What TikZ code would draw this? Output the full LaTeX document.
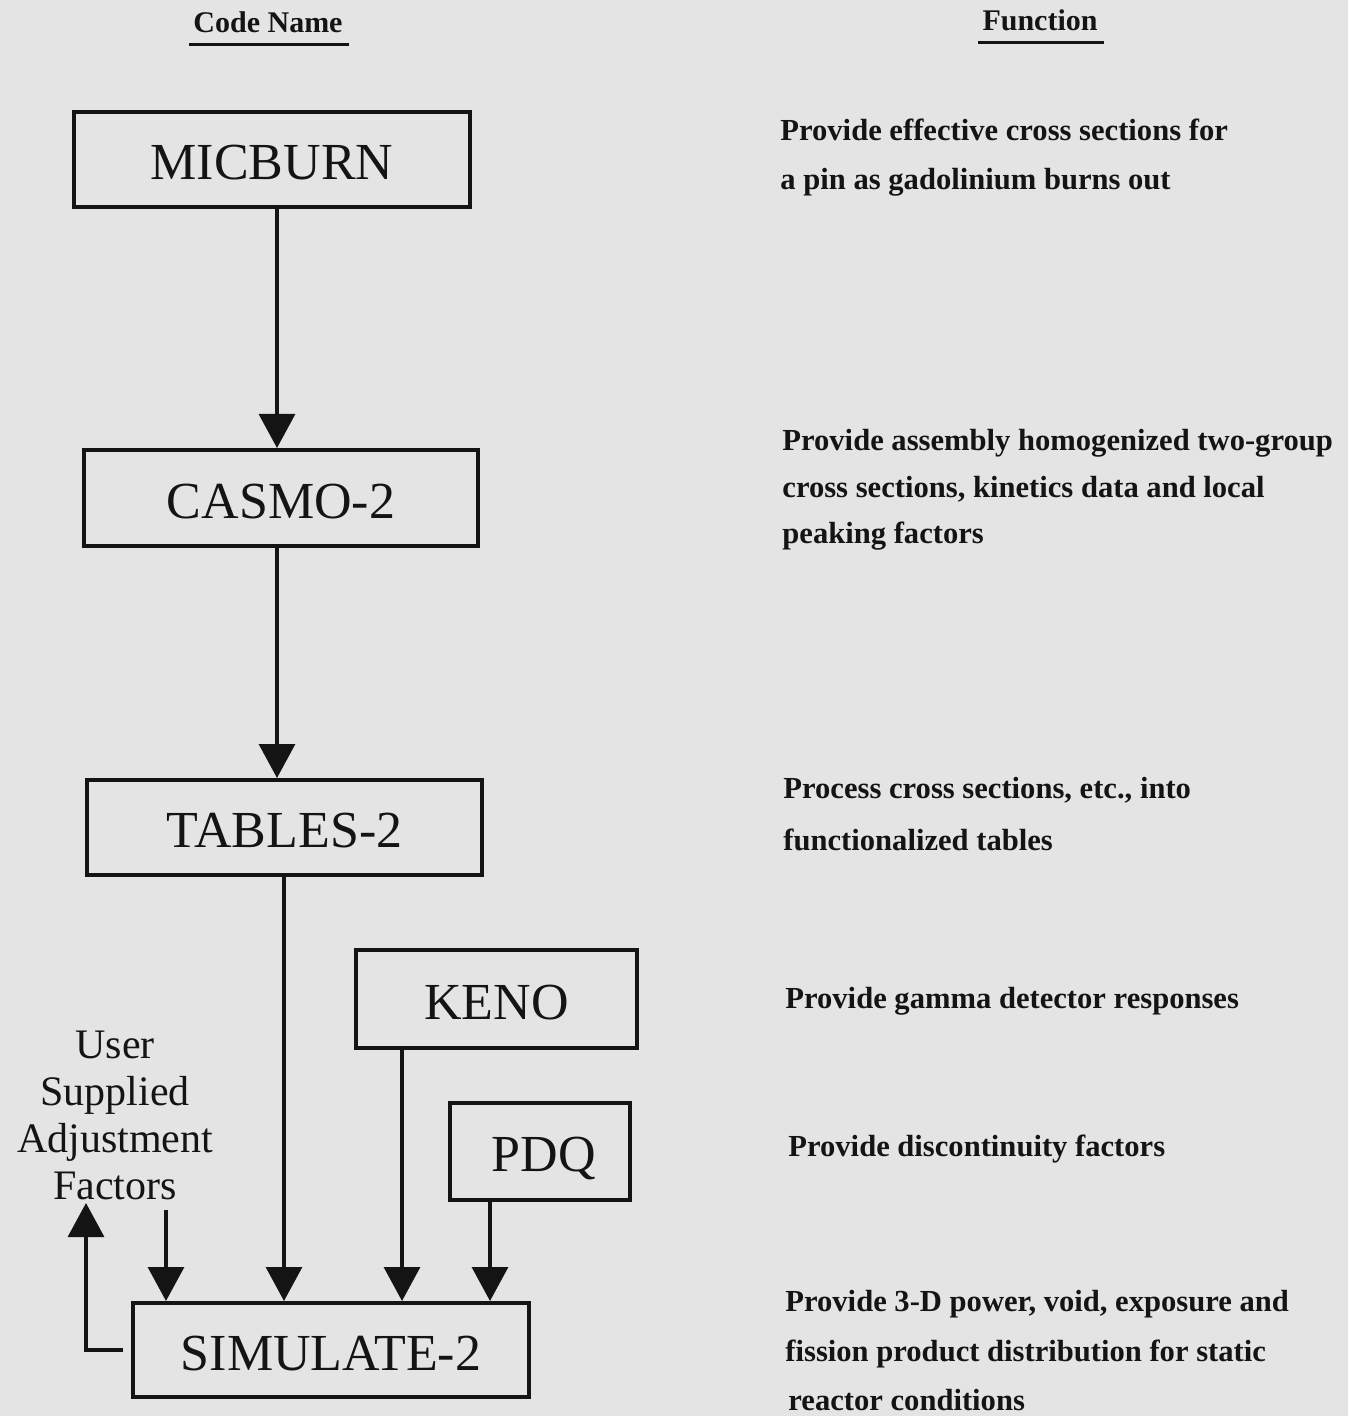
\documentclass[tikz,border=0pt]{standalone}
\usepackage{fontspec}
\setmainfont{Liberation Serif}
\usetikzlibrary{arrows.meta}
\definecolor{bg}{RGB}{228,228,228}
\definecolor{ink}{RGB}{20,20,20}
\begin{document}
\begin{tikzpicture}[x=0.5pt,y=-0.5pt,
  codebox/.style={draw=ink, text=ink, line width=2pt, inner sep=0pt, text height=20pt, text depth=0pt, font=\fontsize{26}{28}\selectfont},
  arr/.style={draw=ink, line width=1.6pt, -{Triangle[width=18pt,length=17pt]}},
  fn/.style={anchor=north west, align=left, inner sep=0pt, text=ink, font=\fontsize{15.3}{24.5}\selectfont\bfseries},
  head/.style={inner sep=0pt, text=ink, font=\fontsize{15}{17}\selectfont\bfseries},
  uline/.style={draw=ink, line width=1.5pt}
  ]
\fill[bg] (0,0) rectangle (1348,1416);
\useasboundingbox (0,0) rectangle (1348,1416);

% headers
\node[head] (hcode) at (268,22) {Code Name};
\node[head] (hfun) at (1040,20) {Function};
\draw[uline] ([xshift=-2pt,yshift=-6pt]hcode.south west) -- ([xshift=3pt,yshift=-6pt]hcode.south east);
\draw[uline] ([xshift=-2pt,yshift=-6pt]hfun.south west) -- ([xshift=3pt,yshift=-6pt]hfun.south east);

% boxes
\node[codebox, minimum width=198pt, minimum height=47.5pt] (mic) at (272,160) {MICBURN};
\node[codebox, minimum width=197pt, minimum height=48pt] (casmo) at (281,498) {CASMO-2};
\node[codebox, minimum width=197.5pt, minimum height=47.5pt] (tables) at (284.5,827.5) {TABLES-2};
\node[codebox, minimum width=140.5pt, minimum height=49pt] (keno) at (496.5,999) {KENO};
\node[codebox, minimum width=90pt, minimum height=48.5pt] (pdq) at (540,1151.5) {\hspace{4pt}PDQ};
\node[codebox, minimum width=198pt, minimum height=47pt] (sim) at (331,1350) {SIMULATE-2};

\node[align=center, inner sep=0pt, text=ink, font=\fontsize{21}{23.5}\selectfont] (user) at (115,1115) {User\\Supplied\\Adjustment\\Factors};

% connector x positions
\coordinate (c1) at (277,0);
\coordinate (c2) at (284,0);
\coordinate (c3) at (402,0);
\coordinate (c4) at (490,0);
\coordinate (c5) at (166,0);
\coordinate (c6) at (86,0);
\coordinate (ut) at (0,1203);
\coordinate (ub) at (0,1210);

\draw[arr] (mic.south -| c1) -- (casmo.north -| c1);
\draw[arr] (casmo.south -| c1) -- (tables.north -| c1);
\draw[arr] (tables.south -| c2) -- (sim.north -| c2);
\draw[arr] (keno.south -| c3) -- (sim.north -| c3);
\draw[arr] (pdq.south -| c4) -- (sim.north -| c4);
\draw[arr] (ub -| c5) -- (sim.north -| c5);
\draw[arr] ([xshift=-4pt]sim.west) -- (sim.west -| c6) -- (ut -| c6);

% functions
\node[fn] (f1) at (780,119) {Provide effective cross sections for\\a pin as gadolinium burns out};
\node[fn, font=\fontsize{15.3}{23.25}\selectfont\bfseries] (f2) at (782,429) {Provide assembly homogenized two-group\\cross sections, kinetics data and local\\peaking factors};
\node[fn, font=\fontsize{15.3}{26}\selectfont\bfseries] (f3) at (783,777) {Process cross sections, etc., into\\functionalized tables};
\node[fn] (f4) at (785,987) {Provide gamma detector responses};
\node[fn] (f5) at (788,1135) {Provide discontinuity factors};
\node[fn, font=\fontsize{15.3}{24.75}\selectfont\bfseries] (f6) at (785,1290) {Provide 3-D power, void, exposure and\\fission product distribution for static\\\hspace{1.5pt}reactor conditions};
\end{tikzpicture}
\end{document}
